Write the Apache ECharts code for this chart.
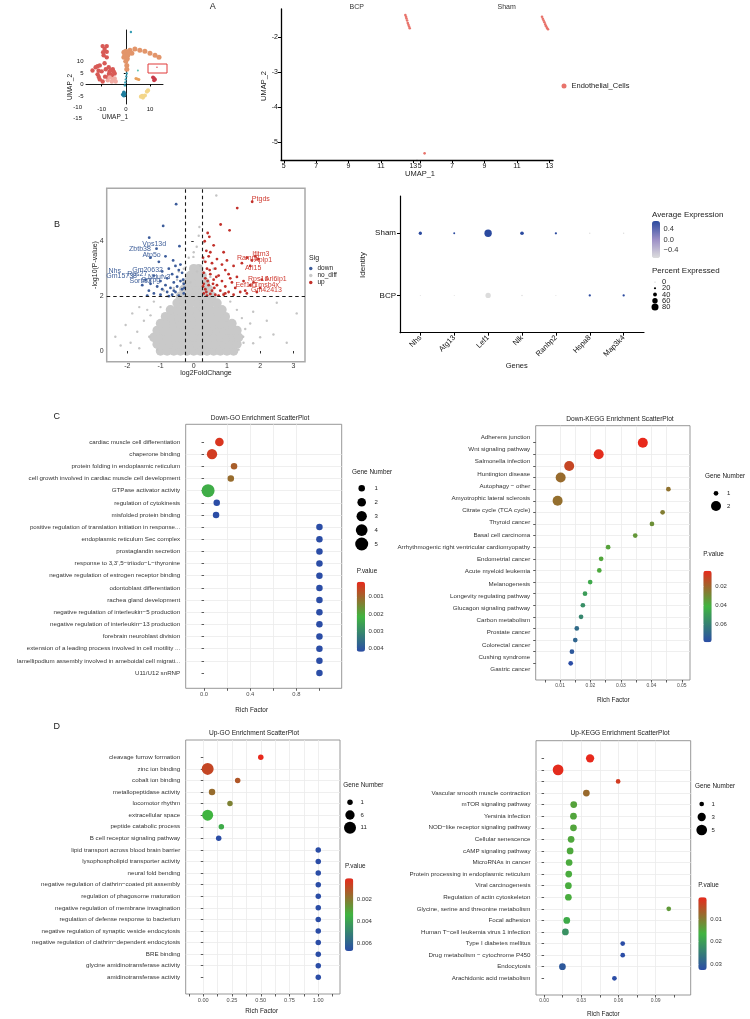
<!DOCTYPE html>
<html>
<head>
<meta charset="utf-8">
<script src="https://cdn.jsdelivr.net/npm/echarts@6/dist/echarts.min.js"></script>
<style>
html, body { margin: 0; padding: 0; background: #fff; }
#main { width: 750px; height: 1019px; }
</style>
</head>
<body>
<div id="main"></div>
<script>
// ====== fonts & palettes ======
const FONT = 'Liberation Sans, Arial, Helvetica, sans-serif';
const PCOL = ['#e8291c', '#40b440', '#2b4da6'];          // p.value: low -> high
const EXPCOL = ['#dcdcdc', '#9c8fc6', '#2b4a9f'];        // average expression

// ====== A: UMAP overview, [UMAP_1, UMAP_2] ======
const umapRed = [[-9.6,16.7],[-8.8,15.4],[-9.2,12.7],[-7.9,16.7],[-7.9,11.8],[-8.8,9.2],[-10.8,8.3],[-12.5,7.5],[-13.8,6.1],[-11.7,4.4],[-10.8,2.2],[-9.6,1.3],[-7.5,3.1],[-6.7,5.7],[-5.4,6.6],[-4.6,4.8],[-5.8,3.9],[-8.3,6.6],[-7.1,7.5],[-10,5.7],[-9.4,14],[-7.9,14.2],[-11.7,7.9],[-11.3,6.0],[-11.2,3.3],[-6.2,6.2],[-6.3,4.4],[-5.0,5.6],[-7.0,4.6],[-8.6,3.4]];
const umapPink = [[-6.7,3.1],[-5.4,2.2],[-4.2,1.3],[-5.8,1.3],[-7.5,1.8],[-4.6,2.6]];
const umapOrange = [[-0.8,14.0],[0,14.5],[1.7,14.9],[3.75,15.4],[5.8,14.9],[7.9,14.5],[10,13.6],[12.1,12.7],[13.75,11.8],[-0.8,11.8],[0,10.1],[0.4,8.3],[0.4,6.6],[0.8,12.7],[2.5,13.6],[-0.4,13],[0.6,11.2],[1.5,13.8]];
const umapTeal = [[2.1,22.8],[0.4,4.8],[0,2.2],[-0.4,-0.4],[0.2,3.5],[-0.2,0.9]];
const umapBlue = [[-0.8,-3.5],[-0.8,-4.8],[-1.25,-4.4],[-0.5,-4.2]];
const umapMint = [[5,6.1]];
const umapAmber = [[4.2,2.6],[5.4,2.2],[4.8,2.4]];
const umapCrimson = [[11.25,3.1],[11.7,1.8],[12.1,2.2],[11.6,2.8]];
const umapYellow = [[6.25,-5.3],[7.1,-5.7],[7.9,-4.8],[8.75,-3.1],[9.2,-2.6],[6.8,-4.9]];
const umapPicked = [[12.9,7.5]];

// ====== A: endothelial cells by group ======
const endoBCP = [[12.51,-1.37],[12.55,-1.42],[12.58,-1.47],[12.62,-1.53],[12.66,-1.6],[12.7,-1.65],[12.74,-1.7],[12.78,-1.75]];
const endoSham = [[12.55,-1.42],[12.6,-1.48],[12.65,-1.53],[12.7,-1.58],[12.75,-1.64],[12.8,-1.69],[12.86,-1.74],[12.92,-1.78],[5.3,-5.33]];

// ====== B: volcano, [log2FC, -log10 P] ======
// dense no_diff cloud, one row per -log10P: [y, x, x, ...]
const noDiffCore = [
  [0.0, -1.0,-0.8,-0.6,-0.4,-0.2,0,0.2,0.4,0.6,0.8,1.0,1.2],
  [0.25, -1.1,-0.9,-0.7,-0.5,-0.3,-0.1,0.1,0.3,0.5,0.7,0.9,1.1,1.3],
  [0.5, -1.2,-1.0,-0.8,-0.6,-0.4,-0.2,0,0.2,0.4,0.6,0.8,1.0,1.2,1.35],
  [0.75, -1.1,-0.9,-0.7,-0.5,-0.3,-0.1,0.1,0.3,0.5,0.7,0.9,1.1,1.3],
  [1.0, -1.0,-0.8,-0.6,-0.4,-0.2,0,0.2,0.4,0.6,0.8,1.0,1.15],
  [1.25, -0.85,-0.65,-0.45,-0.25,-0.05,0.15,0.35,0.55,0.75,0.95],
  [1.5, -0.7,-0.5,-0.3,-0.1,0.1,0.3,0.5,0.7,0.85],
  [1.75, -0.5,-0.3,-0.1,0.1,0.3,0.5,0.7],
  [2.0, -0.4,-0.2,0,0.2,0.4,0.55],
  [2.25, -0.3,-0.1,0.1,0.3,0.45],
  [2.5, -0.2,0,0.2,0.35],
  [2.75, -0.1,0.1,0.25],
  [3.0, 0,0.15]
];
const noDiffSparse = [[-2.05,0.95],[-1.85,1.37],[-1.64,1.6],[-2.36,0.52],[-1.34,0.52],[-1.64,0.1],[-1.5,1.1],[-1.4,1.5],[-1.2,1.8],[-1.0,1.6],[-0.8,2.0],[-0.6,2.3],[-0.5,2.6],[-0.3,3.0],[-0.24,3.06],[-0.15,3.4],[-0.01,3.43],[0.09,3.8],[0.15,4.2],[0.17,4.52],[0.29,3.95],[0.68,5.67],[0.3,3.3],[0.2,3.1],[0.1,2.9],[0.5,2.7],[0.7,2.4],[0.9,2.1],[1.1,1.8],[1.3,1.5],[1.45,1.2],[1.55,0.8],[1.5,0.3],[1.79,1.43],[2.2,1.1],[2.5,1.76],[3.1,1.37],[2.4,0.6],[1.49,0.52],[1.79,0.28],[2.0,0.5],[1.7,1.0],[-1.7,0.7],[-1.9,0.3],[-2.2,0.2],[-1.3,1.3],[-0.9,2.2],[0.0,3.6],[0.25,2.8],[-0.1,2.5],[0.6,3.0],[-0.45,2.9],[2.8,0.3],[-1.1,0.05],[1.35,0.05]];
const volcanoDown = [[-0.53,5.35],[-0.92,4.56],[-1.34,4.13],[-0.43,3.82],[-1.12,3.73],[-0.85,3.45],[-0.62,3.3],[-0.4,3.15],[-1.05,3.25],[-1.3,3.4],[-0.55,3.1],[-0.75,3.0],[-0.45,2.95],[-0.95,2.9],[-0.35,2.85],[-0.65,2.8],[-1.2,2.75],[-0.5,2.7],[-0.8,2.65],[-1.45,2.6],[-0.4,2.55],[-1.0,2.55],[-0.6,2.5],[-1.3,2.45],[-0.3,2.45],[-0.85,2.4],[-1.55,2.4],[-0.5,2.35],[-1.1,2.35],[-0.7,2.3],[-0.35,2.25],[-0.95,2.25],[-1.35,2.2],[-0.55,2.15],[-0.8,2.15],[-1.2,2.1],[-0.3,2.1],[-0.65,2.05],[-1.0,2.05],[-0.45,2.02],[-1.4,2.02],[-0.75,2.0],[-0.28,2.3],[-0.32,2.6],[-0.6,2.2]];
const volcanoUp = [[1.31,5.21],[1.76,5.44],[0.81,4.61],[1.08,4.4],[0.42,4.3],[0.47,4.16],[0.33,4.0],[0.6,3.85],[0.38,3.65],[0.9,3.6],[0.45,3.45],[0.7,3.35],[1.0,3.3],[1.6,3.4],[1.85,3.45],[0.35,3.25],[0.55,3.2],[0.85,3.15],[1.2,3.1],[1.45,3.2],[1.7,3.1],[0.4,3.0],[0.65,3.0],[0.95,2.95],[0.3,2.85],[0.5,2.8],[0.75,2.75],[1.05,2.8],[1.3,2.7],[0.35,2.65],[0.6,2.6],[0.85,2.55],[1.15,2.5],[1.5,2.55],[1.8,2.5],[0.3,2.45],[0.45,2.4],[0.7,2.4],[0.95,2.35],[1.25,2.3],[0.35,2.25],[0.55,2.2],[0.8,2.2],[1.05,2.15],[1.4,2.15],[0.3,2.1],[0.5,2.08],[0.65,2.05],[0.9,2.05],[1.2,2.05],[1.6,2.1],[1.9,2.15],[0.4,2.02],[0.75,2.02],[2.0,2.3],[0.28,2.35],[0.28,3.4],[0.5,3.6],[1.1,2.65],[0.62,2.3],[0.42,2.55],[0.38,2.15],[0.58,2.45],[0.95,2.1],[0.48,2.95],[0.68,2.7],[1.75,3.3],[1.95,3.35],[2.05,2.6],[1.7,2.4],[1.55,2.2]];
// gene labels, [x, y, gene] at label centre
const downLabels = [[-1.19,3.88,'Vps13d'],[-1.62,3.71,'Zbtb38'],[-1.27,3.48,'Atp5o'],[-2.38,2.93,'Nhs'],[-1.39,2.95,'Gm20632'],[-2.17,2.74,'Gm15738'],[-1.70,2.8,'Rps27'],[-1.04,2.68,'Ndufv3'],[-1.6,2.55,'Sorbs3'],[-1.29,2.58,'Snrpg']];
const upLabels = [[2.02,5.55,'Ptgds'],[2.02,3.53,'Ifitm3'],[1.64,3.37,'Ramp2'],[2.09,3.31,'Aplp1'],[1.79,3.03,'Arl15'],[1.94,2.61,'Rps16'],[2.47,2.61,'Arl6ip1'],[1.59,2.39,'Eef1a1'],[2.19,2.39,'Tmsb4x'],[2.19,2.22,'Gm42413']];

// ====== B: dot plot ======
const dotGenes = ['Nhs', 'Atg13', 'Lef1', 'Nlk', 'Ranbp2', 'Hspa8', 'Map3k4'];
const dotGroups = ['BCP', 'Sham'];
const shamPct = [34, 17, 85, 38, 21, 9, 9];
const shamExp = [0.7, 0.7, 0.7, 0.7, 0.7, -0.7, -0.7];
const bcpPct = [5, 5, 59, 11, 5, 21, 21];
const bcpExp = [-0.7, -0.7, -0.7, -0.7, -0.7, 0.7, 0.7];
const pctTicks = [0, 20, 40, 60, 80];
const expTicks = [-0.4, 0, 0.4];

// ====== C: Down-GO ======
const downGoTerms = ['cardiac muscle cell differentiation','chaperone binding','protein folding in endoplasmic reticulum','cell growth involved in cardiac muscle cell development','GTPase activator activity','regulation of cytokinesis','misfolded protein binding','positive regulation of translation initiation in response...','endoplasmic reticulum Sec complex','prostaglandin secretion','response to 3,3\',5\u2212triiodo\u2212L\u2212thyronine','negative regulation of estrogen receptor binding','odontoblast differentiation','rachea gland development','negative regulation of interleukin\u22125 production','negative regulation of interleukin\u221213 production','forebrain neuroblast division','extension of a leading process involved in cell motility ...','lamellipodium assembly involved in ameboidal cell migrati...','U11/U12 snRNP'];
const downGoRich = [0.133,0.069,0.26,0.232,0.035,0.11,0.104,1,1,1,1,1,1,1,1,1,1,1,1,1];
const downGoCount = [2,3,1,1,5,1,1,1,1,1,1,1,1,1,1,1,1,1,1,1];
const downGoP = [0.0003,0.0004,0.0009,0.0011,0.0023,0.0042,0.0042,0.0042,0.0042,0.0042,0.0042,0.0042,0.0042,0.0042,0.0042,0.0042,0.0042,0.0042,0.0042,0.0042];

// ====== C: Down-KEGG ======
const downKeggTerms = ['Adherens junction','Wnt signaling pathway','Salmonella infection','Huntington disease','Autophagy \u2212 other','Amyotrophic lateral sclerosis','Citrate cycle (TCA cycle)','Thyroid cancer','Basal cell carcinoma','Arrhythmogenic right ventricular cardiomyopathy','Endometrial cancer','Acute myeloid leukemia','Melanogenesis','Longevity regulating pathway','Glucagon signaling pathway','Carbon metabolism','Prostate cancer','Colorectal cancer','Cushing syndrome','Gastric cancer'];
const downKeggRich = [0.0372,0.0227,0.0130,0.0102,0.0456,0.0092,0.0437,0.0402,0.0347,0.0258,0.0235,0.0229,0.0199,0.0182,0.0175,0.0169,0.0155,0.0150,0.0139,0.0135];
const downKeggCount = [2,2,2,2,1,2,1,1,1,1,1,1,1,1,1,1,1,1,1,1];
const downKeggP = [0.003,0.004,0.011,0.021,0.023,0.022,0.026,0.031,0.033,0.036,0.037,0.038,0.045,0.05,0.055,0.058,0.068,0.07,0.075,0.079];

// ====== D: Up-GO ======
const upGoTerms = ['cleavage furrow formation','zinc ion binding','cobalt ion binding','metallopeptidase activity','locomotor rhythm','extracellular space','peptide catabolic process','B cell receptor signaling pathway','lipid transport across blood brain barrier','lysophospholipid transporter activity','neural fold bending','negative regulation of clathrin\u2212coated pit assembly','regulation of phagosome maturation','negative regulation of membrane invagination','regulation of defense response to bacterium','negative regulation of synaptic vesicle endocytosis','negative regulation of clathrin\u2212dependent endocytosis','BRE binding','glycine amidinotransferase activity','amidinotransferase activity'];
const upGoRich = [0.5,0.038,0.299,0.076,0.232,0.038,0.157,0.134,1,1,1,1,1,1,1,1,1,1,1,1];
const upGoCount = [1,11,1,2,1,9,1,1,1,1,1,1,1,1,1,1,1,1,1,1];
const upGoP = [0.0001,0.0008,0.0012,0.0017,0.0022,0.0034,0.0037,0.0067,0.0067,0.0067,0.0067,0.0067,0.0067,0.0067,0.0067,0.0067,0.0067,0.0067,0.0067,0.0067];

// ====== D: Up-KEGG ======
const upKeggTerms = ['','','','Vascular smooth muscle contraction','mTOR signaling pathway','Yersinia infection','NOD\u2212like receptor signaling pathway','Cellular senescence','cAMP signaling pathway','MicroRNAs in cancer','Protein processing in endoplasmic reticulum','Viral carcinogenesis','Regulation of actin cytoskeleton','Glycine, serine and threonine metabolism','Focal adhesion','Human T\u2212cell leukemia virus 1 infection','Type I diabetes mellitus','Drug metabolism \u2212 cytochrome P450','Endocytosis','Arachidonic acid metabolism'];
const upKeggRich = [0.0371,0.0113,0.0597,0.0341,0.0239,0.0237,0.0237,0.0218,0.0210,0.0202,0.0199,0.0196,0.0196,0.1005,0.0183,0.0172,0.0634,0.0634,0.0148,0.0567];
const upKeggCount = [3,5,1,2,2,2,2,2,2,2,2,2,2,1,2,2,1,1,2,1];
const upKeggP = [0.0004,0.0008,0.0025,0.008,0.0145,0.0148,0.0148,0.015,0.0152,0.0155,0.0156,0.0157,0.0157,0.0135,0.018,0.022,0.0327,0.0327,0.031,0.0327];

// ====== builders ======
const grids = [], xAxes = [], yAxes = [], series = [], visualMaps = [], legends = [], graphics = [];

function addGrid(box, xa, ya, border) {
  const gi = grids.length;
  grids.push({
    left: box.l, top: box.t, width: box.r - box.l, height: box.b - box.t,
    show: !!border, borderColor: border ? border.color : 'transparent', borderWidth: border ? border.width : 0,
    backgroundColor: 'transparent', containLabel: false, outerBoundsMode: 'none'
  });
  xAxes.push(Object.assign({ gridIndex: gi, type: 'value' }, xa));
  yAxes.push(Object.assign({ gridIndex: gi, type: 'value' }, ya));
  return gi;
}

function txt(x, y, s, size, o) {
  o = o || {};
  const al = o.align || 'center';
  graphics.push({
    type: 'text', x: x, y: y, rotation: o.rot || 0, silent: true, z: 50,
    style: { text: s, fontSize: size, fontFamily: FONT, fill: o.color || '#1a1a1a',
      align: al, textAlign: al, verticalAlign: 'middle', textVerticalAlign: 'middle' }
  });
}

const hidden = (min, max) => ({ min: min, max: max, show: false });

function scatter(gi, data, size, color, extra) {
  series.push(Object.assign({
    type: 'scatter', xAxisIndex: gi, yAxisIndex: gi, data: data, symbolSize: size,
    itemStyle: { color: color, opacity: 1, borderWidth: 0 }, silent: true
  }, extra || {}));
  return series.length - 1;
}

function sizeScale(nmin, nmax, dmin, dmax) {
  return n => Math.sqrt(dmin * dmin + (n - nmin) / (nmax - nmin) * (dmax * dmax - dmin * dmin));
}

// colour bar = visualMap bar + a small axis for its labels
function colorBar(c) {
  visualMaps.push({
    type: 'continuous', seriesIndex: c.seriesIndex, dimension: c.dimension,
    min: c.min, max: c.max, inverse: !!c.inverse, calculable: false, text: null,
    left: c.x, top: c.y, itemWidth: c.w, itemHeight: c.h, padding: 0,
    inRange: { color: c.colors }, hoverLink: false
  });
  addGrid({ l: c.x, t: c.y, r: c.x + c.w, b: c.y + c.h }, hidden(0, 1), {
    min: c.min, max: c.max, inverse: !!c.inverse, position: 'right', z: 6,
    splitLine: { show: false }, axisLine: { show: false },
    axisTick: { show: true, inside: true, length: 1.6, customValues: c.ticks, lineStyle: { color: '#fff', width: 0.8 } },
    axisLabel: { customValues: c.ticks, margin: 3.5, fontSize: c.font || 6, color: '#333', fontFamily: FONT,
      showMinLabel: true, showMaxLabel: true, hideOverlap: false, formatter: c.fmt }
  });
}

// size legend: a small grid in pixel units, dots at x=3, their values written from x=labelX
function sizeLegend(c) {
  const k = c.values.length;
  const step = (c.yLast - c.yFirst) / (k - 1);
  const l = c.x - 3, r = c.labelX + 16;
  const gi = addGrid({ l: l, t: c.yFirst - step, r: r, b: c.yLast + step }, hidden(0, r - l), hidden(-1, k));
  yAxes[gi].inverse = true;
  scatter(gi, c.values.map((v, i) => [3, i, v]), d => c.sizeFn(d[2]), '#000');
  scatter(gi, c.values.map((v, i) => [c.labelX - l, i, v]), 0, '#222', {
    label: { show: true, position: 'right', distance: 0, fontSize: c.font || 6, color: '#222', fontFamily: FONT,
      formatter: p => String(p.value[2]) },
    labelLayout: { hideOverlap: false }
  });
}

function enrichPanel(p) {
  const N = p.terms.length;
  const [l, t, r, b] = p.frame;
  const rows = p.terms.map((s, i) => N - i);
  // frame: border, vertical grid lines, rich factor axis
  addGrid({ l, t, r, b }, {
    min: p.xMin, max: p.xMax, minInterval: p.step, maxInterval: p.step,
    axisLine: { show: false },
    axisTick: { show: true, length: 2.5, customValues: p.splits, lineStyle: { color: '#333', width: 0.8 } },
    axisLabel: { customValues: p.ticks, margin: 3, fontSize: p.xFont, color: '#4d4d4d', fontFamily: FONT,
      formatter: v => (p.ticks.some(tk => Math.abs(tk - v) < 1e-9) ? v.toFixed(p.digits) : '') },
    splitLine: { show: true, showMinLine: false, showMaxLine: false, lineStyle: { color: '#ebebeb', width: 0.8 } }
  }, hidden(0, 1), { color: '#8c8c8c', width: 0.9 });
  // term labels
  const ls = (p.labBot - p.labTop) / (N - 1);
  addGrid({ l, t: p.labTop - ls, r, b: p.labBot + ls }, hidden(0, 1), {
    min: 0, max: N + 1, minInterval: 1, maxInterval: 1,
    axisLine: { show: false }, axisTick: { show: false }, splitLine: { show: false },
    axisLabel: { customValues: rows, margin: 5.5, fontSize: 6.2, color: '#333', fontFamily: FONT,
      showMinLabel: true, showMaxLabel: true, formatter: v => p.terms[N - v] || '' }
  });
  // points with row lines
  const ds = (p.dotBot - p.dotTop) / (N - 1);
  const gi = addGrid({ l, t: p.dotTop - ds, r, b: p.dotBot + ds }, hidden(p.xMin, p.xMax), {
    min: 0, max: N + 1, minInterval: 1, maxInterval: 1,
    axisLine: { show: false },
    axisTick: { show: true, length: 2.5, customValues: rows, lineStyle: { color: '#333', width: 0.8 } },
    axisLabel: { show: false },
    splitLine: { show: true, showMinLine: false, showMaxLine: false, lineStyle: { color: '#ebebeb', width: 0.8 } }
  });
  const si = scatter(gi, p.terms.map((s, i) => [p.rich[i], N - i, p.pvals[i], p.genes[i]]), d => p.sizeFn(d[3]), '#888');
  txt(p.title[0], p.title[1], p.titleText, 6.6);
  txt(p.xName[0], p.xName[1], 'Rich Factor', 6.4);
  txt(p.gene.x0, p.gene.titleY, 'Gene Number', 6.4, { align: 'left' });
  sizeLegend({ x: p.gene.x, labelX: p.gene.labelX, yFirst: p.gene.y0, yLast: p.gene.y1, values: p.gene.values, sizeFn: p.sizeFn });
  txt(p.bar.x, p.bar.titleY, 'P.value', 6.4, { align: 'left' });
  colorBar({ seriesIndex: si, dimension: 2, min: p.pmin, max: p.pmax, inverse: true, colors: PCOL,
    x: p.bar.x, y: p.bar.y, w: p.bar.w, h: p.bar.h, ticks: p.bar.ticks, fmt: v => v.toFixed(p.bar.digits) });
}

// ====== A: UMAP overview ======
const gOv = addGrid({ l: 86, t: 30, r: 163, b: 104 }, {
  min: -16.5, max: 15.4, splitLine: { show: false },
  axisLine: { lineStyle: { color: '#000', width: 0.9 } }, axisTick: { length: 2, customValues: [-10, 0, 10], lineStyle: { color: '#000' } },
  axisLabel: { customValues: [-10, 0, 10], fontSize: 6, margin: 2, color: '#111' }
}, {
  min: -8.5, max: 23.7, splitLine: { show: false },
  axisLine: { lineStyle: { color: '#000', width: 0.9 } }, axisTick: { length: 2, customValues: [-5, 0, 5, 10], lineStyle: { color: '#000' } },
  axisLabel: { customValues: [-5, 0, 5, 10], fontSize: 6, margin: 2.5, color: '#111' }
});
[[umapRed, '#d85a56', 4.4], [umapPink, '#f1aaa2', 4.4], [umapOrange, '#e2956a', 5], [umapTeal, '#3a9fb5', 2.4],
 [umapBlue, '#1f7f9f', 3.8], [umapMint, '#5fc0b0', 2], [umapAmber, '#e8a05a', 3], [umapCrimson, '#c93b4a', 3.8],
 [umapYellow, '#f3d68a', 4.2], [umapPicked, '#e0505a', 1.6]].forEach(c => scatter(gOv, c[0], c[2], c[1]));
graphics.push({ type: 'rect', shape: { x: 148, y: 64, width: 19, height: 9 }, style: { fill: 'none', stroke: '#e03a3a', lineWidth: 1 }, silent: true });
txt(82, 107.3, '-10', 6, { align: 'right', color: '#111' });
txt(82, 118.3, '-15', 6, { align: 'right', color: '#111' });
txt(115, 117.5, 'UMAP_1', 6.5);
txt(70, 87, 'UMAP_2', 6.5, { rot: Math.PI / 2 });

// ====== A: facets ======
const facetX = {
  min: 4.83, max: 13.23, splitLine: { show: false },
  axisLine: { lineStyle: { color: '#000', width: 1.3 } },
  axisTick: { length: 3, customValues: [5, 7, 9, 11, 13], lineStyle: { color: '#000' } },
  axisLabel: { customValues: [5, 7, 9, 11, 13], fontSize: 7, margin: 3, color: '#111', showMinLabel: true, showMaxLabel: true }
};
const gB = addGrid({ l: 281, t: 9, r: 417, b: 160 }, facetX, {
  min: -5.52, max: -1.2, splitLine: { show: false },
  axisLine: { lineStyle: { color: '#000', width: 1.3 } },
  axisTick: { length: 3, customValues: [-5, -4, -3, -2], lineStyle: { color: '#000' } },
  axisLabel: { customValues: [-5, -4, -3, -2], fontSize: 7, margin: 3, color: '#111' }
});
const gS = addGrid({ l: 417, t: 9, r: 553, b: 160 }, facetX, hidden(-5.52, -1.2));
scatter(gB, endoBCP, 2.6, '#e8736b', { name: 'Endothelial_Cells' });
scatter(gS, endoSham, 2.6, '#e8736b', { name: 'Endothelial_Cells' });
legends.push({
  data: ['Endothelial_Cells'], left: 561.5, top: 82, orient: 'vertical', icon: 'circle', itemWidth: 5, itemHeight: 5,
  padding: 0, selectedMode: false, textStyle: { fontSize: 7.5, color: '#222', fontFamily: FONT }
});
txt(212.7, 7, 'A', 9);
txt(356.7, 7, 'BCP', 7, { color: '#333' });
txt(506.7, 7, 'Sham', 7, { color: '#333' });
txt(420, 173.7, 'UMAP_1', 7.5);
txt(264, 86, 'UMAP_2', 7.5, { rot: Math.PI / 2 });

// ====== B: volcano ======
const gV = addGrid({ l: 106.7, t: 188.3, r: 305, b: 361.7 }, {
  min: -2.62, max: 3.35, splitLine: { show: false }, axisLine: { show: false },
  axisTick: { length: 2.5, customValues: [-2, -1, 0, 1, 2, 3], lineStyle: { color: '#333' } },
  axisLabel: { customValues: [-2, -1, 0, 1, 2, 3], fontSize: 7, margin: 1, color: '#333' }
}, {
  min: -0.39, max: 5.93, splitLine: { show: false }, axisLine: { show: false },
  axisTick: { length: 2.5, customValues: [0, 2, 4], lineStyle: { color: '#333' } },
  axisLabel: { customValues: [0, 2, 4], fontSize: 7, margin: 3, color: '#333' }
}, { color: '#a9a9a9', width: 1.5 });
const coreXY = [];
noDiffCore.forEach(row => row.slice(1).forEach(x => coreXY.push([x, row[0]])));
scatter(gV, coreXY, 9.5, '#c9c9c9', { name: 'no_diff' });
scatter(gV, noDiffSparse, 2.4, '#c4c4c4', { name: 'no_diff' });
scatter(gV, volcanoDown, 2.8, '#3c5c9a', { name: 'down' });
scatter(gV, volcanoUp, 2.8, '#c2302a', {
  name: 'up',
  markLine: {
    silent: true, symbol: 'none', label: { show: false },
    lineStyle: { type: [3.5, 3], color: '#1a1a1a', width: 1.1 },
    data: [{ xAxis: -0.25 }, { xAxis: 0.25 }, { yAxis: 2 }]
  }
});
const geneLabel = (arr, color) => scatter(gV, arr.map(a => ({ value: [a[0], a[1]], name: a[2] })), 0, color, {
  label: { show: true, position: 'inside', formatter: '{b}', fontSize: 7, color: color, fontFamily: FONT }, z: 5
});
geneLabel(downLabels, '#40609a');
geneLabel(upLabels, '#cf3a30');
legends.push({
  data: ['down', 'no_diff', 'up'], left: 309, top: 265, orient: 'vertical', icon: 'circle', itemWidth: 3.5, itemHeight: 3.5,
  itemGap: 0, padding: 0, selectedMode: false, textStyle: { fontSize: 6.5, color: '#222', lineHeight: 5.7, fontFamily: FONT }
});
txt(309, 258, 'Sig', 7, { align: 'left' });
txt(57, 225, 'B', 9);
txt(95, 265, '-log10(P-value)', 7, { rot: Math.PI / 2 });
txt(206, 373.5, 'log2FoldChange', 7);

// ====== B: dot plot ======
const gD = addGrid({ l: 400, t: 196, r: 644, b: 332.7 }, {
  min: 0.4, max: 7.6, splitLine: { show: false },
  axisLine: { lineStyle: { color: '#000', width: 1.2 } },
  axisTick: { length: 3, customValues: [1, 2, 3, 4, 5, 6, 7], lineStyle: { color: '#000' } },
  axisLabel: { customValues: [1, 2, 3, 4, 5, 6, 7], rotate: 45, fontSize: 7.5, margin: 4, color: '#111', formatter: v => dotGenes[v - 1] || '' }
}, {
  min: 0.4, max: 2.6, splitLine: { show: false },
  axisLine: { lineStyle: { color: '#000', width: 1.2 } },
  axisTick: { length: 3, customValues: [1, 2], lineStyle: { color: '#000' } },
  axisLabel: { customValues: [1, 2], fontSize: 8, margin: 4, color: '#111', formatter: v => dotGroups[v - 1] || '' }
});
const pctSize = p => 0.6 + p * 0.08;
const dotData = [];
dotGenes.forEach((g, i) => {
  dotData.push([i + 1, 2, shamPct[i], shamExp[i]]);
  dotData.push([i + 1, 1, bcpPct[i], bcpExp[i]]);
});
const siDot = scatter(gD, dotData, d => pctSize(d[2]), '#888');
const signed = v => (Math.abs(v) < 1e-9 ? '0.0' : (v < 0 ? '\u2212' : '') + Math.abs(v).toFixed(1));
colorBar({ seriesIndex: siDot, dimension: 3, min: -0.7, max: 0.7, inverse: false, colors: EXPCOL,
  x: 652, y: 221, w: 8, h: 37, ticks: expTicks, fmt: signed, font: 7.5 });
sizeLegend({ x: 655, labelX: 662, yFirst: 282, yLast: 307, values: pctTicks, sizeFn: pctSize, font: 7.5 });
txt(652, 215, 'Average Expression', 8, { align: 'left' });
txt(652, 271, 'Percent Expressed', 8, { align: 'left' });
txt(516.7, 366, 'Genes', 7.5);
txt(363, 265, 'Identity', 8, { rot: Math.PI / 2 });

// ====== C / D: enrichment panels ======
enrichPanel({
  terms: downGoTerms, rich: downGoRich, genes: downGoCount, pvals: downGoP, pmin: 0.00012, pmax: 0.0042,
  frame: [185.7, 424.3, 341.7, 688.3], xMin: -0.159, xMax: 1.193, step: 0.2,
  splits: [0, 0.2, 0.4, 0.6, 0.8, 1.0], ticks: [0, 0.4, 0.8], digits: 1, xFont: 5.8,
  dotTop: 442, dotBot: 673, labTop: 442, labBot: 673, sizeFn: sizeScale(1, 5, 6.5, 13),
  title: [260, 417.7], titleText: 'Down-GO Enrichment ScatterPlot', xName: [251.7, 710.7],
  gene: { x0: 352, titleY: 472.7, x: 361.7, labelX: 374.5, y0: 488.3, y1: 544, values: [1, 2, 3, 4, 5] },
  bar: { x: 356.7, titleY: 571.7, y: 581.7, w: 8.3, h: 70, ticks: [0.001, 0.002, 0.003, 0.004], digits: 3 }
});
enrichPanel({
  terms: downKeggTerms, rich: downKeggRich, genes: downKeggCount, pvals: downKeggP, pmin: 0.003, pmax: 0.079,
  frame: [535.7, 425.7, 690, 680], xMin: 0.002, xMax: 0.0527, step: 0.005,
  splits: [0.005, 0.01, 0.015, 0.02, 0.025, 0.03, 0.035, 0.04, 0.045, 0.05], ticks: [0.01, 0.02, 0.03, 0.04, 0.05], digits: 2, xFont: 5,
  dotTop: 442.7, dotBot: 663.3, labTop: 437.3, labBot: 669.3, sizeFn: sizeScale(1, 2, 4.7, 10),
  title: [620, 418.7], titleText: 'Down-KEGG Enrichment ScatterPlot', xName: [613.3, 700.7],
  gene: { x0: 705, titleY: 476.7, x: 716, labelX: 727, y0: 493.3, y1: 506, values: [1, 2] },
  bar: { x: 703.3, titleY: 554.3, y: 570.7, w: 8.4, h: 71.6, ticks: [0.02, 0.04, 0.06], digits: 2 }
});
enrichPanel({
  terms: upGoTerms, rich: upGoRich, genes: upGoCount, pvals: upGoP, pmin: 0.0001, pmax: 0.0067,
  frame: [185.7, 740, 340, 994], xMin: -0.153, xMax: 1.189, step: 0.125,
  splits: [-0.125, 0, 0.125, 0.25, 0.375, 0.5, 0.625, 0.75, 0.875, 1, 1.125], ticks: [0, 0.25, 0.5, 0.75, 1], digits: 2, xFont: 5.6,
  dotTop: 757.3, dotBot: 977.3, labTop: 757.3, labBot: 977.3, sizeFn: sizeScale(1, 11, 5.5, 12),
  title: [254, 732.7], titleText: 'Up-GO Enrichment ScatterPlot', xName: [261.7, 1011.7],
  gene: { x0: 343.3, titleY: 785, x: 350, labelX: 360.5, y0: 802.3, y1: 827.7, values: [1, 6, 11] },
  bar: { x: 345, titleY: 866.7, y: 878.3, w: 8.3, h: 72.7, ticks: [0.002, 0.004, 0.006], digits: 3 }
});
enrichPanel({
  terms: upKeggTerms, rich: upKeggRich, genes: upKeggCount, pvals: upKeggP, pmin: 0.0004, pmax: 0.0327,
  frame: [536, 740.7, 690.7, 995], xMin: -0.0065, xMax: 0.1182, step: 0.015,
  splits: [0, 0.015, 0.03, 0.045, 0.06, 0.075, 0.09, 0.105], ticks: [0, 0.03, 0.06, 0.09], digits: 2, xFont: 5,
  dotTop: 758.3, dotBot: 978.3, labTop: 758.3, labBot: 978.3, sizeFn: sizeScale(1, 5, 4.7, 10.7),
  title: [620, 732.7], titleText: 'Up-KEGG Enrichment ScatterPlot', xName: [603.3, 1014.3],
  gene: { x0: 695, titleY: 786.7, x: 701.7, labelX: 711.5, y0: 804, y1: 830, values: [1, 3, 5] },
  bar: { x: 698.3, titleY: 885.7, y: 897.3, w: 8.4, h: 72.7, ticks: [0.01, 0.02, 0.03], digits: 2 }
});
txt(56.7, 417, 'C', 9);
txt(56.7, 726.7, 'D', 9);

// ====== render ======
const chart = echarts.init(document.getElementById('main'), null, { renderer: 'canvas', width: 750, height: 1019 });
chart.setOption({
  animation: false,
  backgroundColor: '#fff',
  textStyle: { fontFamily: FONT },
  grid: grids, xAxis: xAxes, yAxis: yAxes,
  series: series, visualMap: visualMaps, legend: legends,
  graphic: { elements: graphics }
});
</script>
</body>
</html>
